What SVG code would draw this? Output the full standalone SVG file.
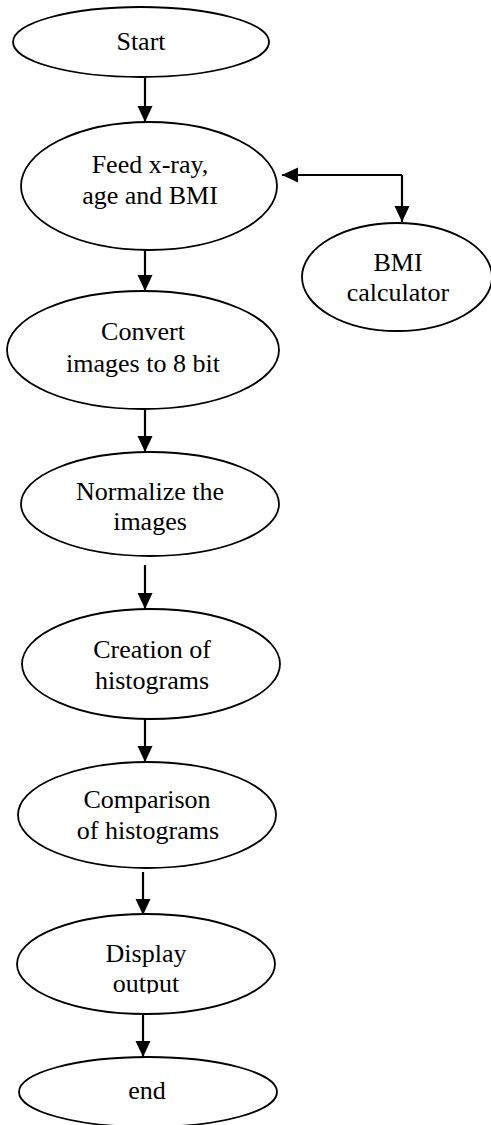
<svg xmlns="http://www.w3.org/2000/svg" width="491" height="1125" viewBox="0 0 491 1125">
  <style>
    .node ellipse { fill: #ffffff; stroke: #000000; stroke-width: 1.8; }
    .node text { font-family: "Liberation Serif", "Times New Roman", serif; font-size: 26px; fill: #000000; text-anchor: middle; }
    .edge { fill: none; stroke: #000000; stroke-width: 2.2; marker-end: url(#arrow); }
  </style>
  <defs>
    <marker id="arrow" markerUnits="userSpaceOnUse" markerWidth="16" markerHeight="16" viewBox="0 0 16 16" refX="16" refY="8" orient="auto">
      <path d="M0,0.5 L16,8 L0,15.5 Z" fill="#000000"/>
    </marker>
    <clipPath id="clip-display">
      <rect x="0" y="900" width="300" height="93.5"/>
    </clipPath>
  </defs>
  <rect width="491" height="1125" fill="#ffffff"/>

  <g id="connectors">
    <path class="edge" d="M145,78 L145,122"/>
    <path class="edge" d="M145,250 L145,291"/>
    <path class="edge" d="M145,410 L145,452"/>
    <path class="edge" d="M145,565 L145,609"/>
    <path class="edge" d="M145,719 L145,762"/>
    <path class="edge" d="M143,872 L143,915"/>
    <path class="edge" d="M143,1014 L143,1057"/>
    <path class="edge" d="M402,175 L402,222"/>
    <path class="edge" d="M402,175 L282,175"/>
  </g>

  <g id="start" class="node">
    <ellipse cx="141" cy="42" rx="128" ry="35"/>
    <text x="141" y="50">Start</text>
  </g>

  <g id="feed" class="node">
    <ellipse cx="149" cy="186" rx="128" ry="64"/>
    <text x="150" y="173">Feed x-ray,</text>
    <text x="150" y="204">age and BMI</text>
  </g>

  <g id="bmi-calculator" class="node">
    <ellipse cx="397" cy="277" rx="95" ry="54"/>
    <text x="398" y="271">BMI</text>
    <text x="398" y="301">calculator</text>
  </g>

  <g id="convert" class="node">
    <ellipse cx="143" cy="350" rx="136" ry="59"/>
    <text x="143" y="340">Convert</text>
    <text x="143" y="372">images to 8 bit</text>
  </g>

  <g id="normalize" class="node">
    <ellipse cx="150" cy="504" rx="129" ry="52"/>
    <text x="150" y="500">Normalize the</text>
    <text x="150" y="530">images</text>
  </g>

  <g id="creation" class="node">
    <ellipse cx="151" cy="664" rx="129" ry="55"/>
    <text x="152" y="658">Creation of</text>
    <text x="152" y="689">histograms</text>
  </g>

  <g id="comparison" class="node">
    <ellipse cx="147" cy="815" rx="129" ry="53"/>
    <text x="147" y="808">Comparison</text>
    <text x="148" y="839">of histograms</text>
  </g>

  <g id="display" class="node">
    <ellipse cx="146" cy="964" rx="129" ry="50"/>
    <text x="146" y="962">Display</text>
    <text x="146" y="992" clip-path="url(#clip-display)">output</text>
  </g>

  <g id="end" class="node">
    <ellipse cx="148" cy="1092" rx="129" ry="35"/>
    <text x="147" y="1099">end</text>
  </g>
</svg>
